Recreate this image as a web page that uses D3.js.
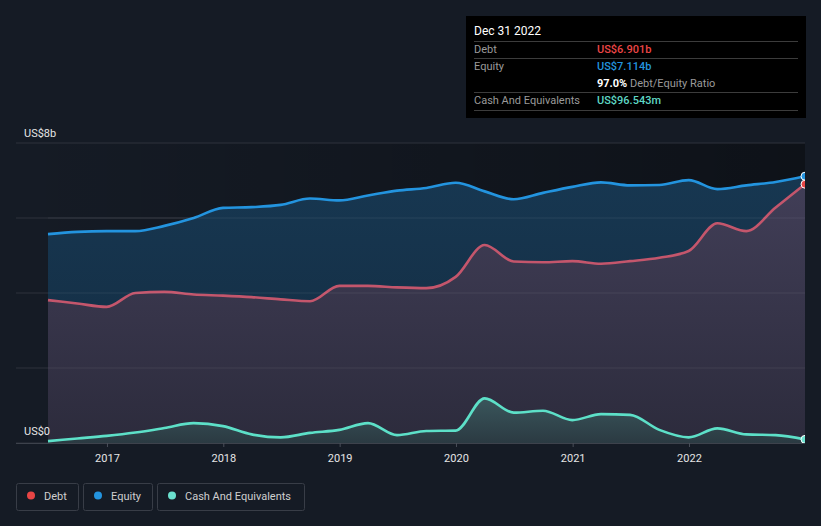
<!DOCTYPE html>
<html><head><meta charset="utf-8">
<script src="https://cdn.jsdelivr.net/npm/d3@7"></script>
<style>
html,body{margin:0;padding:0;background:#151b25;}
svg{display:block;font-family:Roboto,"Noto Sans",sans-serif;}
</style></head><body>
<svg id="c" width="821" height="526"></svg>
<script>
const dates = ["2016-06-30","2016-09-30","2016-12-31","2017-03-31","2017-06-30","2017-09-30","2017-12-31",
"2018-03-31","2018-06-30","2018-09-30","2018-12-31","2019-03-31","2019-06-30","2019-09-30","2019-12-31",
"2020-03-31","2020-06-30","2020-09-30","2020-12-31","2021-03-31","2021-06-30","2021-09-30","2021-12-31",
"2022-03-31","2022-06-30","2022-09-30","2022-12-31"];
const debt = [3.81,3.72,3.63,4.0,4.03,3.96,3.93,3.89,3.83,3.78,4.19,4.19,4.15,4.13,4.43,5.28,4.84,4.82,4.85,4.78,4.85,4.94,5.12,5.86,5.65,6.28,6.901];
const equity = [5.57,5.63,5.65,5.65,5.79,6.0,6.27,6.29,6.35,6.52,6.47,6.6,6.73,6.8,6.94,6.71,6.5,6.67,6.83,6.95,6.87,6.88,7.01,6.77,6.87,6.96,7.114];
const cash = [0.05,0.12,0.19,0.28,0.4,0.53,0.45,0.23,0.15,0.27,0.35,0.53,0.21,0.32,0.33,1.19,0.81,0.86,0.61,0.77,0.75,0.35,0.15,0.39,0.23,0.21,0.0965];
const yTicks = [0,2,4,6,8];
const xTickYears = [2017,2018,2019,2020,2021,2022];
const legendItems = ["Debt","Equity","Cash And Equivalents"];

const svg = d3.select("#c");
const parse = d3.utcParse("%Y-%m-%d");
const D = dates.map(parse);
const x = d3.scaleUtc().domain([D[0], D[D.length-1]]).range([48, 805]);
const y = d3.scaleLinear().domain([0, 8]).range([443, 143]);

const defs = svg.append("defs");
const bgG = defs.append("linearGradient").attr("id","bgG").attr("x1","0").attr("x2","1").attr("y1","0").attr("y2","0");
bgG.append("stop").attr("offset","0").attr("stop-color","#000").attr("stop-opacity",0);
bgG.append("stop").attr("offset","1").attr("stop-color","#000").attr("stop-opacity",0.35);
function vgrad(id, c1, c2){
  const g = defs.append("linearGradient").attr("id",id).attr("x1","0").attr("x2","0").attr("y1","0").attr("y2","1");
  g.append("stop").attr("offset","0").attr("stop-color",c1);
  g.append("stop").attr("offset","1").attr("stop-color",c2);
}
vgrad("eqG","#173751","#132b40");
vgrad("dbG","#413e57","#2c2b3c");
vgrad("chG","#3a565c","#2b3a42");
defs.append("clipPath").attr("id","clip").append("rect").attr("x",16).attr("y",100).attr("width",789).attr("height",345);

// plot background
svg.append("rect").attr("x",16).attr("y",143).attr("width",789).attr("height",300).attr("fill","url(#bgG)");

// gridlines
svg.append("g").selectAll("line").data(yTicks).join("line")
  .attr("x1",16).attr("x2",805).attr("y1",d=>y(d)).attr("y2",d=>y(d))
  .attr("stroke","#2e333d").attr("stroke-width",1);

const curve = d3.curveMonotoneX;
const mk = arr => arr.map((v,i)=>({d:D[i], v}));
const series = [
  {data:mk(equity), color:"#2394df", fill:"url(#eqG)"},
  {data:mk(debt), color:"#c4566c", fill:"url(#dbG)"},
  {data:mk(cash), color:"#5de0c8", fill:"url(#chG)"}
];
const pg = svg.append("g").attr("clip-path","url(#clip)");
series.forEach(s=>{
  pg.append("path").datum(s.data).attr("fill",s.fill)
    .attr("d", d3.area().curve(curve).x(p=>x(p.d)).y0(y(0)).y1(p=>y(p.v)));
});
// redraw grid over fills faintly
svg.append("g").selectAll("line").data(yTicks.slice(1,4)).join("line")
  .attr("x1",48).attr("x2",805).attr("y1",d=>y(d)).attr("y2",d=>y(d))
  .attr("stroke","#ffffff").attr("stroke-opacity",0.07);
series.forEach(s=>{
  pg.append("path").datum(s.data).attr("fill","none").attr("stroke",s.color).attr("stroke-width",2.6)
    .attr("d", d3.line().curve(curve).x(p=>x(p.d)).y(p=>y(p.v)));
});
const endColors = ["#2394df","#e84545","#6ae0ce"];
series.forEach((s,i)=>{
  const p = s.data[s.data.length-1];
  pg.append("circle").attr("cx",x(p.d)).attr("cy",y(p.v)).attr("r",4)
    .attr("fill",endColors[i]).attr("stroke","#ffffff").attr("stroke-width",1);
});

// axis baseline
svg.append("line").attr("x1",16).attr("x2",805).attr("y1",443.5).attr("y2",443.5).attr("stroke","#3d424c");
const xt = xTickYears.map(yr=>new Date(Date.UTC(yr,0,1)));
const xa = svg.append("g").attr("transform","translate(0,443)")
  .call(d3.axisBottom(x).tickValues(xt).tickFormat(d3.utcFormat("%Y")).tickSize(4).tickPadding(7));
xa.select(".domain").remove();
xa.selectAll("line").attr("stroke","#4a4f59");
xa.selectAll("text").attr("fill","#e6e6e6").attr("font-size",11).attr("font-family","Roboto,sans-serif");

svg.append("text").attr("x",24).attr("y",137).attr("fill","#e6e6e6").attr("font-size",11).text("US$8b");
svg.append("text").attr("x",24).attr("y",435).attr("fill","#e6e6e6").attr("font-size",11).text("US$0");

// tooltip
const tt = svg.append("g");
tt.append("rect").attr("x",466).attr("y",16).attr("width",340).attr("height",102).attr("fill","#000");
tt.append("text").attr("x",474).attr("y",35).attr("fill","#fff").attr("font-size",12).text("Dec 31 2022");
[41,58,92,110].forEach(yy=>tt.append("line").attr("x1",474).attr("x2",798).attr("y1",yy+0.5).attr("y2",yy+0.5).attr("stroke","#3c3c3c"));
const rows = [
  {label:"Debt", value:"US$6.901b", color:"#ec4646", y:53},
  {label:"Equity", value:"US$7.114b", color:"#2394df", y:70},
  {label:"Cash And Equivalents", value:"US$96.543m", color:"#5fd8c5", y:104}
];
rows.forEach(r=>{
  tt.append("text").attr("x",474).attr("y",r.y).attr("fill","#9a9a9a").attr("font-size",11).text(r.label);
  tt.append("text").attr("x",597).attr("y",r.y).attr("fill",r.color).attr("font-size",11).attr("font-weight",500).text(r.value);
});
const rt = tt.append("text").attr("x",597).attr("y",87).attr("font-size",11);
rt.append("tspan").attr("fill","#fff").attr("font-weight",700).text("97.0%");
rt.append("tspan").attr("fill","#9a9a9a").text(" Debt/Equity Ratio");

// legend
const lg = svg.append("g");
const boxes = [{x:16,w:62},{x:83,w:69},{x:157,w:147}];
legendItems.forEach((name,i)=>{
  const b = boxes[i];
  lg.append("rect").attr("x",b.x+0.5).attr("y",483.5).attr("width",b.w).attr("height",27).attr("rx",2)
    .attr("fill","none").attr("stroke","#383d47");
  lg.append("circle").attr("cx",b.x+15).attr("cy",495.5).attr("r",4).attr("fill",endColors[i===0?1:(i===1?0:2)]);
  lg.append("text").attr("x",b.x+28).attr("y",499.5).attr("fill","#cfcfcf").attr("font-size",11).text(name);
});
</script></body></html>
